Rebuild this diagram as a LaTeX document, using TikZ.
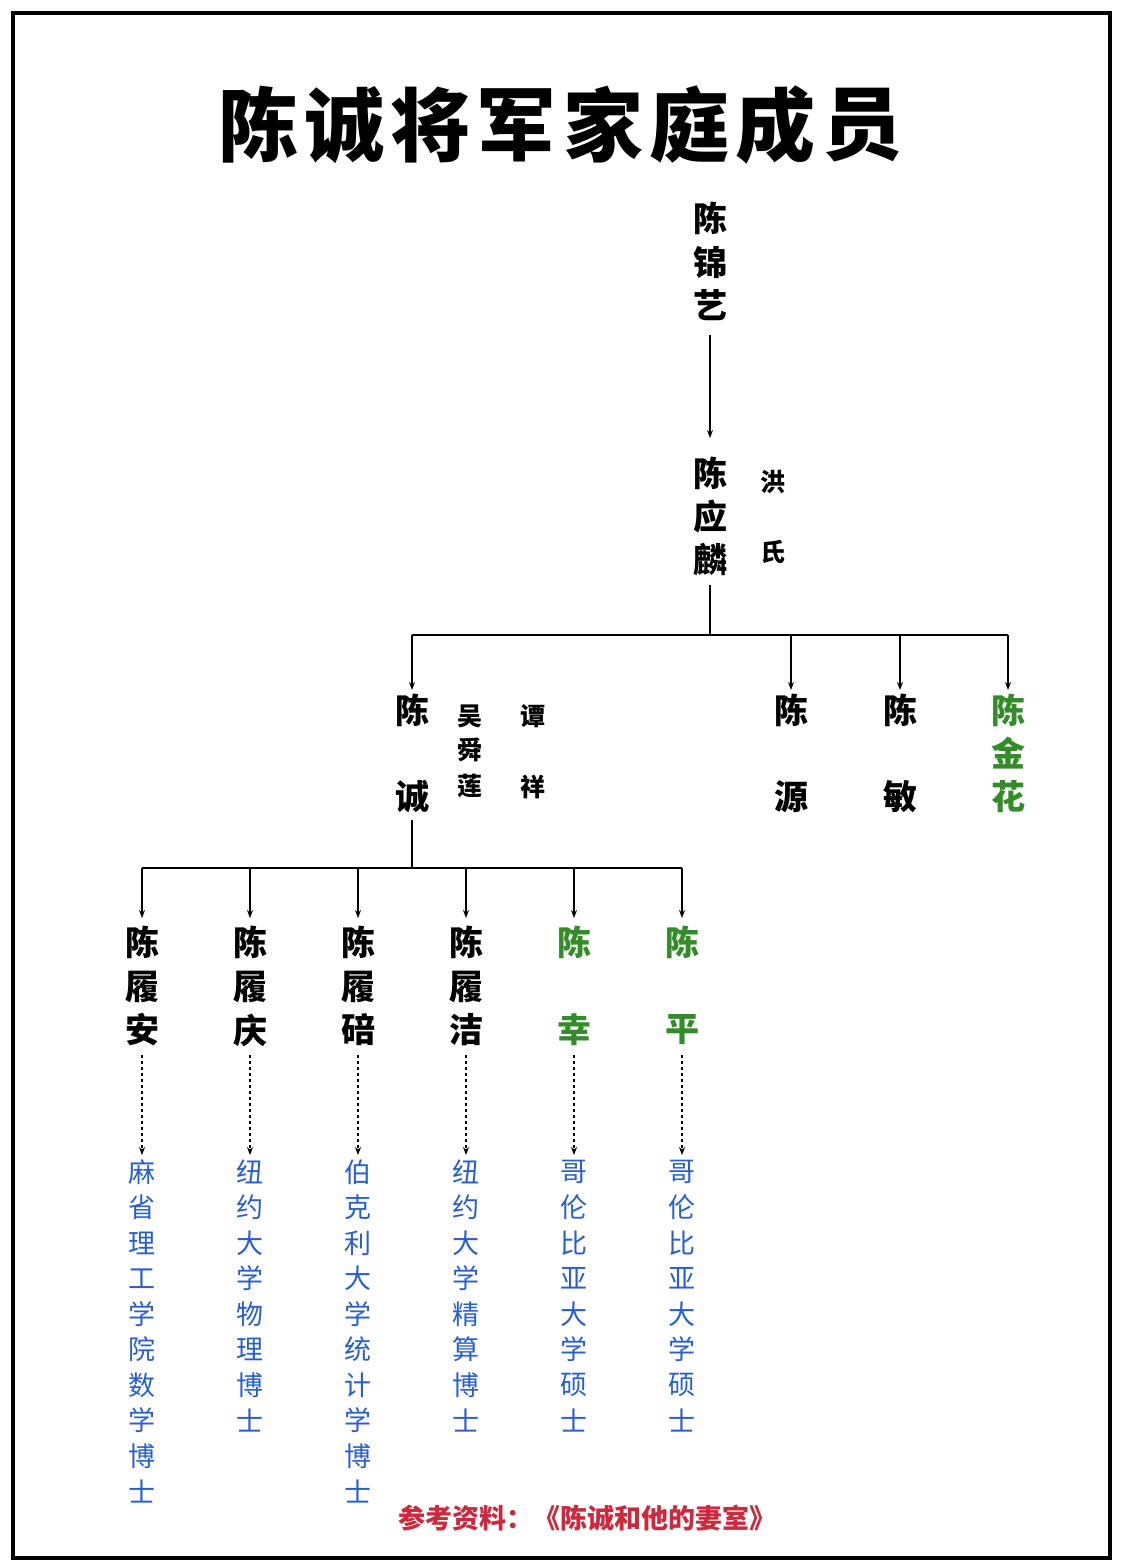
\documentclass[tikz,border=0pt]{standalone}
\usepackage{fontspec}
\newfontfamily\cjk{Noto Sans CJK SC}
\usetikzlibrary{arrows.meta}
\definecolor{gr}{RGB}{50,140,40}
\definecolor{bl}{RGB}{40,95,205}
\definecolor{rd}{RGB}{205,40,60}
\begin{document}
\begin{tikzpicture}[x=1pt,y=-1pt,
  nm/.style={font=\cjk\bfseries\fontsize{34}{34}\selectfont,inner sep=0pt},
  sp/.style={font=\cjk\bfseries\fontsize{25}{25}\selectfont,inner sep=0pt},
  sc/.style={font=\cjk\fontsize{27}{27}\selectfont,inner sep=0pt,text=bl},
  tt/.style={font=\cjk\bfseries\fontsize{80}{80}\selectfont,inner sep=0pt},
  ln/.style={line width=1.5pt},
  ar/.style={line width=1.3pt,-{Stealth[length=8pt,width=6pt]}},
  da/.style={line width=1.2pt,dashed,dash pattern=on 3pt off 3pt,-{Stealth[length=8pt,width=6pt]}}]
\useasboundingbox (0,0) rectangle (1125,1568);
\fill[white] (0,0) rectangle (1125,1568);
\draw[line width=4pt] (13,13) rectangle (1110,1558);
\foreach \c [count=\i from 0] in {陈,诚,将,军,家,庭,成,员}{\node[tt] (title\i) at (258+86.3*\i,125) {\c};}
% grandfather
\node[nm] (a1) at (710,218) {陈};
\node[nm] at (710,262) {锦};
\node[nm] (a3) at (710,305) {艺};
\node[nm] (b1) at (710,473) {陈};
\node[nm] at (710,517) {应};
\node[nm] (b3) at (710,560) {麟};
\node[sp] at (773,482) {洪};
\node[sp] at (773,552) {氏};
\coordinate (a3b) at (710,335);
\coordinate (b1t) at (710,438);
\draw[ar] (a3b) -- (b1t);
\coordinate (b3b) at (710,585);
\coordinate (bh) at (710,635);
\draw[ln] (b3b) -- (bh);
\draw[ln] (412,635) -- (1008,635);
\foreach \x in {412,791,900,1008}{\draw[ar] (\x,635) -- (\x,690);}
% generation 3
\node[nm] (c1) at (412,710) {陈};
\node[nm] (c2) at (412,797) {诚};
\node[sp] at (470,716) {吴};
\node[sp] at (470,750) {舜};
\node[sp] at (470,786) {莲};
\node[sp] at (533,716) {谭};
\node[sp] at (533,787) {祥};
\node[nm] at (791,710) {陈};
\node[nm] at (791,797) {源};
\node[nm] at (900,710) {陈};
\node[nm] at (900,797) {敏};
\node[nm,text=gr] at (1008,710) {陈};
\node[nm,text=gr] at (1008,753) {金};
\node[nm,text=gr] at (1008,797) {花};
\coordinate (c2b) at (412,820);
\coordinate (ch) at (412,868);
\draw[ln] (c2b) -- (ch);
\draw[ln] (142,868) -- (682,868);
\foreach \x in {142,250,358,466,574,682}{\draw[ar] (\x,868) -- (\x,918);}
% children
\foreach \x/\m/\l in {142/履/安,250/履/庆,358/履/碚,466/履/洁}{
  \node[nm] at (\x,942) {陈};
  \node[nm] at (\x,987) {\m};
  \node[nm] at (\x,1030) {\l};}
\foreach \x/\l in {574/幸,682/平}{
  \node[nm,text=gr] at (\x,942) {陈};
  \node[nm,text=gr] at (\x,1030) {\l};}
\foreach \x in {142,250,358,466,574,682}{\draw[da] (\x,1055) -- (\x,1155);}
\foreach \x/\s in {142/{麻,省,理,工,学,院,数,学,博,士},250/{纽,约,大,学,物,理,博,士},358/{伯,克,利,大,学,统,计,学,博,士},466/{纽,约,大,学,精,算,博,士},574/{哥,伦,比,亚,大,学,硕,士},682/{哥,伦,比,亚,大,学,硕,士}}{
  \foreach \c [count=\i from 0] in \s {\node[sc] at (\x,1172+35.5*\i) {\c};}}
\node[font=\cjk\bfseries\fontsize{27}{27}\selectfont,text=rd,anchor=west] (ref) at (395,1518) {参考资料：《陈诚和他的妻室》};
\end{tikzpicture}
\end{document}
